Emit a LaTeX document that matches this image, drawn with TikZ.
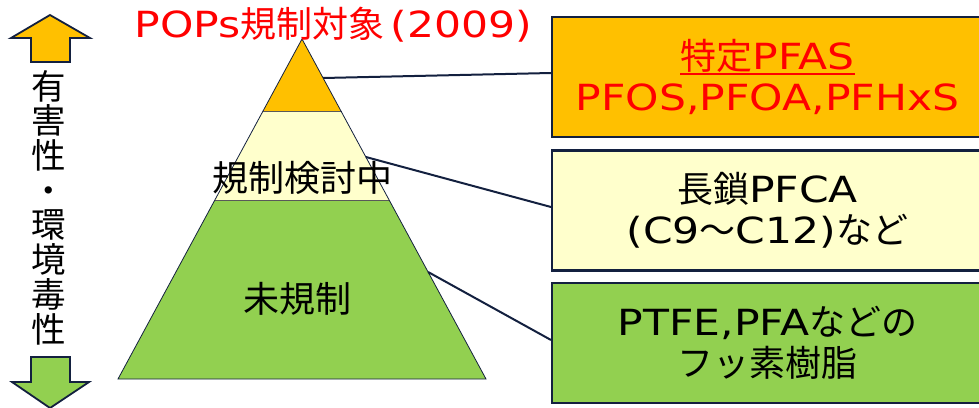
\documentclass[tikz,border=0pt]{standalone}
\usepackage{fontspec}
\setmainfont{Noto Sans CJK JP}
\newfontfamily\latf[FakeStretch=1.18]{DejaVu Sans}
\newcommand{\LF}[1]{{\latf #1}}
\newcommand{\myul}[1]{\setbox0\hbox{#1}\rlap{\rule[-5pt]{\wd0}{1.6pt}}\box0}
\usetikzlibrary{calc}
\definecolor{ora}{HTML}{FFC000}
\definecolor{lyel}{HTML}{FFFFCC}
\definecolor{lgrn}{HTML}{92D050}
\definecolor{navy}{HTML}{13203F}
\definecolor{tred}{HTML}{FF0000}
\tikzset{
  infobox/.style={draw=navy, line width=2.5pt, minimum width=431pt, minimum height=120pt, align=center, inner sep=0pt,
    font=\fontsize{36}{41}\selectfont},
  link/.style={draw=navy, line width=2pt},
  tier/.style={draw=navy, line width=0.8pt},
  arrowshape/.style={draw=navy, line width=1.8pt, line join=miter},
  bigtext/.style={font=\fontsize{36}{40}\selectfont, inner sep=0pt},
  vtext/.style={font=\fontsize{34.5}{34.7}\selectfont, inner sep=0pt, align=center},
}
\begin{document}
\begin{tikzpicture}[x=1pt,y=-1pt]
\useasboundingbox (0,0) rectangle (979,407);
% pyramid
\coordinate (apex) at (302,39);
\coordinate (bl) at (118,379);
\coordinate (br) at (486,379);
\coordinate (t1l) at ($(apex)!{73/340}!(bl)$);
\coordinate (t1r) at ($(apex)!{73/340}!(br)$);
\coordinate (t2l) at ($(apex)!{161/340}!(bl)$);
\coordinate (t2r) at ($(apex)!{161/340}!(br)$);
\fill[lgrn] (t2l) -- (t2r) -- (br) -- (bl) -- cycle;
\fill[lyel] (t1l) -- (t1r) -- (t2r) -- (t2l) -- cycle;
\fill[ora] (apex) -- (t1r) -- (t1l) -- cycle;
\draw[draw=gray!70!black, line width=1pt] (t1l) -- (t1r) (t2l) -- (t2r);
\draw[tier] (apex) -- (br) -- (bl) -- cycle;
% pyramid labels
\node[bigtext] (mid) at (302.5,178) {規制検討中};
\node[bigtext] (low) at (297,299) {未規制};
% title
\node[bigtext, text=tred, anchor=base] (title) at (333.5,37) {\LF{POPs}規制対象\LF{\,(2009)}};
% boxes
\node[infobox, fill=ora, text=tred] (b1) at (767.5,77) {\myul{特定\LF{PFAS}}\\\LF{PFOS,PFOA,PFHxS}};
\node[infobox, fill=lyel] (b2) at (767.5,210.5) {長鎖\LF{PFCA}\\\LF{(C9}～\LF{C12)}など};
\node[infobox, fill=lgrn] (b3) at (767.5,343) {\LF{PTFE,PFA}などの\\フッ素樹脂};
% connectors
\coordinate (p1) at ($(apex)!{39/340}!(br)$);
\coordinate (p2) at ($(apex)!{118/340}!(br)$);
\coordinate (p3) at ($(apex)!{233/340}!(br)$);
\coordinate (e1) at (551,73);
\coordinate (e2) at (551,207);
\coordinate (e3) at (551,340);
\draw[link] (p1) -- (e1);
\draw[link] (p2) -- (e2);
\draw[link] (p3) -- (e3);
% arrows
\draw[arrowshape, fill=ora] (50,15) -- (90,38) -- (70,38) -- (70,62) -- (31,62) -- (31,38) -- (11,38) -- cycle;
\draw[arrowshape, fill=lgrn] (31,357) -- (70,357) -- (70,382) -- (89,382) -- (50,408) -- (12,382) -- (31,382) -- cycle;
% vertical label
\node[vtext] (vt) at (49,207.5) {有\\害\\性\\・\\環\\境\\毒\\性};
\end{tikzpicture}
\end{document}
